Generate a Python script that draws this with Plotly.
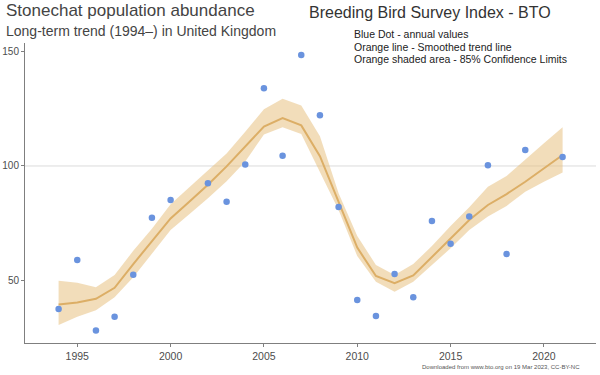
import plotly.graph_objects as go

# ---- data ----
dot_years = [1994, 1995, 1996, 1997, 1998, 1999, 2000, 2002, 2003, 2004, 2005, 2006,
             2007, 2008, 2009, 2010, 2011, 2012, 2013, 2014, 2015, 2016, 2017, 2018,
             2019, 2021]
dot_values = [37.3, 58.8, 27.9, 33.9, 52.3, 77.3, 85.1, 92.4, 84.3, 100.6, 134.1, 104.5,
              148.6, 122.2, 82.0, 41.2, 34.2, 52.6, 42.5, 75.9, 65.9, 77.9, 100.3, 61.4,
              107.0, 103.9]

trend_years = list(range(1994, 2022))
trend_values = [39.3, 40.2, 41.8, 46.6, 57.0, 67.0, 77.0, 84.3, 91.8, 99.8, 108.6, 117.3,
                121.0, 117.8, 104.3, 84.3, 64.2, 51.8, 48.6, 52.0, 60.0, 68.3, 76.3, 82.9,
                87.7, 93.1, 98.8, 104.8]
upper_values = [49.7, 48.8, 46.8, 52.2, 62.8, 72.5, 83.2, 90.5, 97.8, 105.5, 115.0, 124.9,
                129.5, 126.5, 113.0, 88.0, 69.3, 56.6, 52.2, 57.0, 64.9, 73.7, 81.9, 90.9,
                95.6, 102.9, 110.0, 117.0]
lower_values = [30.3, 33.9, 36.8, 42.4, 51.2, 61.3, 71.9, 78.8, 85.8, 93.3, 102.0, 113.8,
                117.0, 114.0, 97.5, 80.7, 60.5, 49.3, 44.9, 49.3, 56.6, 63.9, 71.9, 77.8,
                82.5, 88.7, 93.1, 97.1]

x_ticks = [1995, 2000, 2005, 2010, 2015, 2020]
y_ticks = [50, 100, 150]
ref_line = 100

title = "Stonechat population abundance"
subtitle = "Long-term trend (1994\u2013) in United Kingdom"
right_title = "Breeding Bird Survey Index - BTO"
legend_lines = ["Blue Dot - annual values",
                "Orange line - Smoothed trend line",
                "Orange shaded area - 85% Confidence Limits"]
footer = "Downloaded from www.bto.org on 19 Mar 2023, CC-BY-NC"

# ---- layout geometry ----
W, H = 600, 375
ML, MR, MT, MB = 25, 4, 43, 32
PW, PH = W - ML - MR, H - MT - MB


def px(x):
    return (x - ML) / PW


def py(y):
    return (H - MB - y) / PH


FONT = "Liberation Sans, Arial, Helvetica, sans-serif"
BAND = "rgba(229,188,118,0.5)"
LINE = "#dcae66"
DOT = "#6a93de"

fig = go.Figure()
fig.add_trace(go.Scatter(x=trend_years, y=upper_values, mode="lines",
                         line=dict(width=0), hoverinfo="skip", showlegend=False))
fig.add_trace(go.Scatter(x=trend_years, y=lower_values, mode="lines",
                         line=dict(width=0), fill="tonexty", fillcolor=BAND,
                         hoverinfo="skip", showlegend=False))
fig.add_trace(go.Scatter(x=trend_years, y=trend_values, mode="lines",
                         line=dict(color=LINE, width=2), showlegend=False))
fig.add_trace(go.Scatter(x=dot_years, y=dot_values, mode="markers",
                         marker=dict(color=DOT, size=6.5), showlegend=False))

fig.add_hline(y=ref_line, line=dict(color="#dcdcdc", width=1), layer="below")

ann = []
ann.append(dict(text=title, x=px(4), y=py(11), xanchor="left", yanchor="middle",
                font=dict(size=17, color="#444444")))
ann.append(dict(text=subtitle, x=px(4), y=py(31), xanchor="left", yanchor="middle",
                font=dict(size=14, color="#444444")))
ann.append(dict(text=right_title, x=px(307), y=py(13), xanchor="left", yanchor="middle",
                font=dict(size=16, color="#333333")))
for i, t in enumerate(legend_lines):
    ann.append(dict(text=t, x=px(352), y=py(34 + i * 12.5), xanchor="left",
                    yanchor="middle", font=dict(size=10.5, color="#222222")))
ann.append(dict(text=footer, x=px(582), y=py(367), xanchor="right", yanchor="middle",
                font=dict(size=6, color="#555555")))
for a in ann:
    a.update(xref="paper", yref="paper", showarrow=False)

fig.update_layout(
    width=W, height=H,
    margin=dict(l=ML, r=MR, t=MT, b=MB, pad=0, autoexpand=False),
    paper_bgcolor="white", plot_bgcolor="white",
    font=dict(family=FONT, color="#4d4d4d"),
    annotations=ann,
    showlegend=False,
)
fig.update_xaxes(range=[1992.2, 2022.79], tickvals=x_ticks, showgrid=False,
                 zeroline=False, showline=True, linecolor="#7f7f7f", linewidth=1,
                 ticks="outside", ticklen=3, tickcolor="#7f7f7f", automargin=False,
                 tickfont=dict(size=10.5, color="#4d4d4d"))
fig.update_yaxes(range=[22.4, 153.9], tickvals=y_ticks, showgrid=False,
                 zeroline=False, showline=True, linecolor="#7f7f7f", linewidth=1,
                 ticks="outside", ticklen=3, tickcolor="#7f7f7f", automargin=False,
                 tickfont=dict(size=10, color="#4d4d4d"))

fig.write_html("out.html",
               config={"displayModeBar": False},
               post_script="document.body.style.margin='0px';"
                           "document.body.style.padding='0px';")
